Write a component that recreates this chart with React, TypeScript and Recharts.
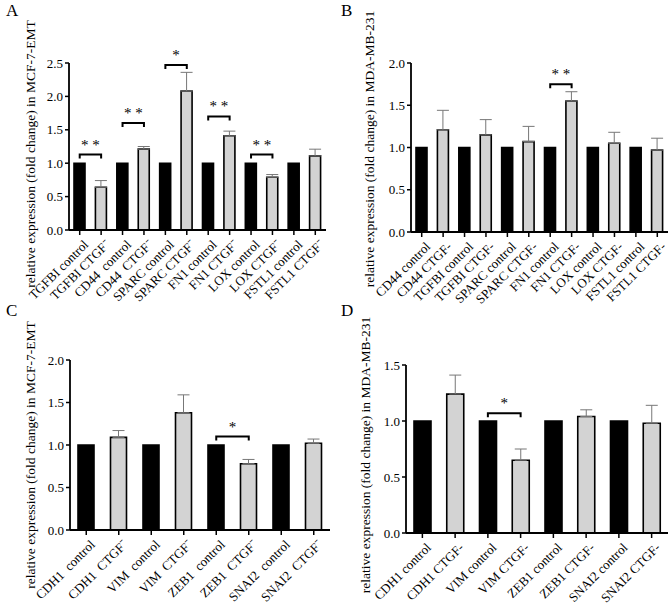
import React from "react";
import {
  BarChart,
  Bar,
  Cell,
  XAxis,
  YAxis,
  ErrorBar,
  ReferenceLine,
} from "recharts";

// Panel A - MCF-7-EMT, ECM genes
const catsA = [
  "TGFBI control", "TGFBI CTGF⁻",
  "CD44  control", "CD44  CTGF⁻",
  "SPARC control", "SPARC CTGF⁻",
  "FN1 control", "FN1 CTGF⁻",
  "LOX control", "LOX CTGF⁻",
  "FSTL1 control", "FSTL1 CTGF⁻",
];
const valsA = [1, 0.64, 1, 1.21, 1, 2.08, 1, 1.41, 1, 0.79, 1, 1.11];
const errA = [null, 0.1, null, 0.04, null, 0.28, null, 0.07, null, 0.04, null, 0.1];
const sigA = [
  { from: "TGFBI control", to: "TGFBI CTGF⁻", y: 1.13, mark: "* *" },
  { from: "CD44  control", to: "CD44  CTGF⁻", y: 1.6, mark: "* *" },
  { from: "SPARC control", to: "SPARC CTGF⁻", y: 2.47, mark: "*" },
  { from: "FN1 control", to: "FN1 CTGF⁻", y: 1.7, mark: "* *" },
  { from: "LOX control", to: "LOX CTGF⁻", y: 1.13, mark: "* *" },
];
const ticksA = [0, 0.5, 1, 1.5, 2, 2.5];

// Panel B - MDA-MB-231, ECM genes
const catsB = [
  "CD44 control", "CD44 CTGF-",
  "TGFBI control", "TGFBI CTGF-",
  "SPARC control", "SPARC CTGF-",
  "FN1 control", "FN1 CTGF-",
  "LOX control", "LOX CTGF-",
  "FSTL1 control", "FSTL1 CTGF-",
];
const valsB = [1, 1.21, 1, 1.15, 1, 1.07, 1, 1.55, 1, 1.05, 1, 0.97];
const errB = [null, 0.23, null, 0.18, null, 0.18, null, 0.11, null, 0.13, null, 0.14];
const sigB = [{ from: "FN1 control", to: "FN1 CTGF-", y: 1.75, mark: "* *" }];
const ticksB = [0, 0.5, 1, 1.5, 2];

// Panel C - MCF-7-EMT, EMT genes
const catsC = [
  "CDH1  control", "CDH1  CTGF⁻",
  "VIM  control", "VIM  CTGF⁻",
  "ZEB1  control", "ZEB1  CTGF⁻",
  "SNAI2  control", "SNAI2  CTGF⁻",
];
const valsC = [1, 1.09, 1, 1.38, 1, 0.78, 1, 1.02];
const errC = [null, 0.08, null, 0.21, null, 0.05, null, 0.05];
const sigC = [{ from: "ZEB1  control", to: "ZEB1  CTGF⁻", y: 1.1, mark: "*" }];
const ticksC = [0, 0.5, 1, 1.5, 2];

// Panel D - MDA-MB-231, EMT genes
const catsD = [
  "CDH1 control", "CDH1 CTGF-",
  "VIM control", "VIM CTGF-",
  "ZEB1 control", "ZEB1 CTGF-",
  "SNAI2 control", "SNAI2 CTGF-",
];
const valsD = [1, 1.24, 1, 0.65, 1, 1.04, 1, 0.98];
const errD = [null, 0.17, null, 0.1, null, 0.06, null, 0.16];
const sigD = [{ from: "VIM control", to: "VIM CTGF-", y: 1.07, mark: "*" }];
const ticksD = [0, 0.5, 1, 1.5];

const FONT = '"Liberation Serif", "Times New Roman", serif';

const XTick = (props: any) => {
  const { x, y, payload } = props;
  return (
    <g transform={`translate(${x + 3},${y + 2})`}>
      <text
        x={0}
        y={0}
        dy="0.7em"
        textAnchor="end"
        transform="rotate(-45)"
        fontSize={13}
        fontFamily={FONT}
        fill="#000"
        style={{ whiteSpace: "pre" }}
      >
        {payload.value}
      </text>
    </g>
  );
};

function Panel(props: any) {
  const {
    pos, size, margin, yWidth, xHeight, letter, ylabel, ylabelPos,
    cats, vals, errs, sigs, ticks, barSize,
  } = props;
  const data = cats.map((c: string, i: number) => ({
    name: c,
    value: vals[i],
    err: errs[i] == null ? null : [0, errs[i]],
    ctrl: errs[i] == null,
  }));
  return (
    <div style={{ position: "absolute", left: pos[0], top: pos[1], width: size[0], height: size[1] }}>
      <div style={{ position: "absolute", left: 6, top: 1, fontSize: 17, fontFamily: FONT }}>{letter}</div>
      <div
        style={{
          position: "absolute",
          left: ylabelPos[0],
          top: ylabelPos[1],
          transform: "translate(-50%, -50%) rotate(-90deg)",
          whiteSpace: "nowrap",
          fontSize: 13.5,
          fontFamily: FONT,
        }}
      >
        {ylabel}
      </div>
      <BarChart width={size[0]} height={size[1]} data={data} margin={margin} style={{ position: "absolute", left: 0, top: 0 }}>
        <XAxis
          dataKey="name"
          interval={0}
          tick={<XTick />}
          tickSize={5}
          height={xHeight}
          axisLine={{ stroke: "#000", strokeWidth: 1.8 }}
          tickLine={{ stroke: "#000", strokeWidth: 1.5 }}
        />
        <YAxis
          domain={[0, ticks[ticks.length - 1]]}
          ticks={ticks}
          width={yWidth}
          tickSize={4}
          tickFormatter={(v: number) => v.toFixed(1)}
          tick={{ fill: "#000", fontSize: 13, fontFamily: FONT }}
          axisLine={{ stroke: "#000", strokeWidth: 1.8 }}
          tickLine={{ stroke: "#000", strokeWidth: 1.5 }}
        />
        <Bar dataKey="value" barSize={barSize} isAnimationActive={false}>
          {data.map((d: any, i: number) => (
            <Cell key={i} fill={d.ctrl ? "#000" : "#d3d3d3"} stroke="#000" strokeWidth={1.6} />
          ))}
          <ErrorBar dataKey="err" direction="y" width={6} stroke="#777" strokeWidth={1} isAnimationActive={false} />
        </Bar>
        {sigs.map((s: any, i: number) => (
          <ReferenceLine
            key={i}
            segment={[{ x: s.from, y: s.y }, { x: s.to, y: s.y }]}
            ifOverflow="visible"
            shape={(p: any) => (
              <g>
                <path
                  d={`M${p.x1},${p.y1 + 4}V${p.y1}H${p.x2}V${p.y2 + 4}`}
                  fill="none"
                  stroke="#000"
                  strokeWidth={2}
                />
                <text
                  x={(p.x1 + p.x2) / 2}
                  y={p.y1 + 3}
                  textAnchor="middle"
                  fill="#000"
                  stroke="none"
                  fontSize={15}
                  fontFamily={FONT}
                  style={{ whiteSpace: "pre" }}
                  dy={-8}
                >
                  {s.mark}
                </text>
              </g>
            )}
          />
        ))}
      </BarChart>
    </div>
  );
}

export default function App() {
  return (
    <div style={{ position: "absolute", left: 0, top: 0, width: 669, height: 605, background: "#fff", fontFamily: FONT, overflow: "hidden" }}>
      <style>{`.recharts-surface { overflow: visible; }`}</style>
      <Panel
        pos={[0, 0]} size={[335, 300]}
        margin={{ top: 63, right: 9, bottom: 10, left: 29 }} yWidth={40} xHeight={60}
        letter="A" ylabel="relative expression (fold change) in MCF-7-EMT" ylabelPos={[31, 154]}
        cats={catsA} vals={valsA} errs={errA} sigs={sigA} ticks={ticksA} barSize={11}
      />
      <Panel
        pos={[335, 0]} size={[334, 300]}
        margin={{ top: 63, right: 1, bottom: 8, left: 36 }} yWidth={40} xHeight={60}
        letter="B" ylabel="relative expression (fold change) in MDA-MB-231" ylabelPos={[35, 149]}
        cats={catsB} vals={valsB} errs={errB} sigs={sigB} ticks={ticksB} barSize={11}
      />
      <Panel
        pos={[0, 300]} size={[335, 305]}
        margin={{ top: 60, right: 5, bottom: 15, left: 30 }} yWidth={40} xHeight={60}
        letter="C" ylabel="relative expression (fold change) in MCF-7-EMT" ylabelPos={[31, 155]}
        cats={catsC} vals={valsC} errs={errC} sigs={sigC} ticks={ticksC} barSize={16}
      />
      <Panel
        pos={[335, 300]} size={[334, 305]}
        margin={{ top: 65, right: 1, bottom: 12, left: 31 }} yWidth={40} xHeight={60}
        letter="D" ylabel="relative expression (fold change) in MDA-MB-231" ylabelPos={[31, 155]}
        cats={catsD} vals={valsD} errs={errD} sigs={sigD} ticks={ticksD} barSize={17}
      />
    </div>
  );
}
